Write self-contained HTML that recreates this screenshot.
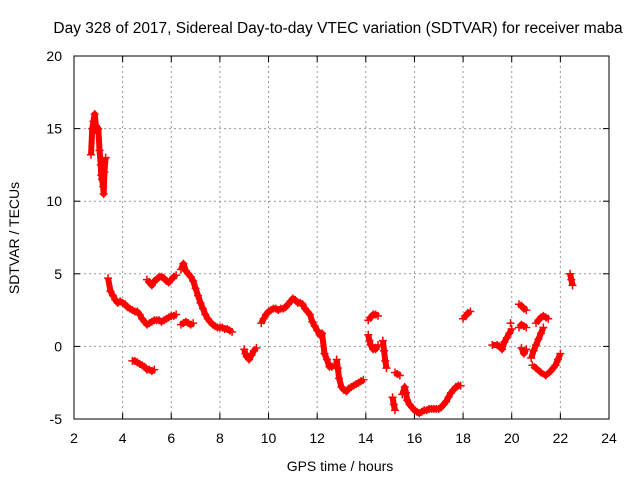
<!DOCTYPE html>
<html><head><meta charset="utf-8"><style>
body{margin:0;background:#fff}
svg{display:block;font-family:"Liberation Sans",sans-serif}
</style></head><body>
<svg id="c" width="640" height="480">
<text x="338" y="33" text-anchor="middle" font-size="15.5" fill="#000">Day 328 of 2017, Sidereal Day-to-day VTEC variation (SDTVAR) for receiver maba</text>
<text x="340" y="471" text-anchor="middle" font-size="14">GPS time / hours</text>
<text transform="translate(19,238) rotate(-90)" text-anchor="middle" font-size="14">SDTVAR / TECUs</text>
<g id="grid"></g><g id="marks"></g>
<rect x="74" y="56" width="535" height="363" fill="none" stroke="#000" stroke-width="1"/>
</svg>
<script>
const xTicks=[2,4,6,8,10,12,14,16,18,20,22,24];
const yTicks=[-5,0,5,10,15,20];
const segHours=[
[2.7,2.75,2.8,2.85,2.9,2.95,3.0,3.05,3.1,3.12,3.15,3.2,3.22,3.25,3.3],
[3.4,3.5,3.6,3.7,3.8,3.9,4.0,4.1,4.2,4.3,4.4,4.5,4.6,4.7,4.8,4.9,5.0,5.1,5.2,5.3,5.4,5.5,5.6,5.7,5.8,5.9,6.0,6.1,6.2],
[5.0,5.1,5.2,5.3,5.4,5.5,5.6,5.7,5.8,5.9,6.0,6.1,6.2],
[4.4,4.5,4.6,4.7,4.8,4.9,5.0,5.1,5.2,5.3],
[6.4,6.5,6.6,6.7,6.8,6.9],
[6.4,6.5,6.6,6.7,6.8,6.9,7.0,7.1,7.2,7.3,7.4,7.5,7.6,7.7,7.8,7.9,8.0,8.1,8.2,8.3,8.4,8.5],
[9.0,9.05,9.1,9.2,9.3,9.4,9.5],
[9.7,9.8,9.9,10.0,10.1,10.2,10.3,10.4,10.5,10.6,10.7,10.8,10.9,11.0,11.1,11.2,11.3,11.4,11.5,11.6,11.7,11.8,11.9,12.0,12.1,12.2,12.3,12.4,12.5,12.6,12.7],
[12.8,12.85,12.9,13.0,13.1,13.2,13.3,13.4,13.5,13.6,13.7,13.8,13.9],
[14.1,14.2,14.3,14.4,14.5],
[14.1,14.15,14.2,14.3,14.4,14.5],
[14.7,14.75,14.8,14.85],
[15.2,15.3,15.4],
[15.1,15.15,15.2],
[15.5,15.6,15.65,15.7,15.8,15.9,16.0,16.1,16.2,16.3,16.4,16.5,16.6,16.7,16.8,16.9,17.0,17.1,17.2,17.3,17.4,17.5,17.6,17.7,17.8,17.9],
[18.0,18.1,18.2,18.3],
[19.2,19.4,19.5,19.6,19.7,19.8,19.9,20.0],
[19.95],
[20.3,20.4,20.5,20.6],
[20.3,20.4,20.5,20.6],
[20.4,20.5,20.6],
[20.8,20.9,21.0,21.1,21.2,21.3],
[20.85,21.0,21.2,21.4,21.6,21.8,21.9,22.0],
[21.0,21.1,21.2,21.3,21.4,21.5],
[22.4,22.45,22.5]
];
const segValues=[
[13.2,15,15.5,16,15.2,14.8,15,13.5,12.5,11.8,11.5,11,10.5,12,13],
[4.7,3.8,3.5,3.2,3.0,3.1,3.0,2.9,2.7,2.6,2.5,2.4,2.4,2.2,1.9,1.7,1.5,1.6,1.7,1.8,1.8,1.8,1.7,1.8,1.9,2.0,2.1,2.1,2.2],
[4.6,4.4,4.2,4.5,4.6,4.8,4.8,4.7,4.5,4.4,4.6,4.8,4.9],
[-1.0,-1.0,-1.1,-1.2,-1.3,-1.4,-1.6,-1.6,-1.7,-1.6],
[1.5,1.6,1.7,1.6,1.5,1.6],
[5.3,5.7,5.2,5.0,4.8,4.5,4.0,3.5,3.0,2.6,2.2,1.9,1.7,1.5,1.4,1.3,1.3,1.3,1.2,1.2,1.1,1.0],
[-0.2,-0.5,-0.7,-0.9,-0.6,-0.3,-0.1],
[1.6,1.9,2.2,2.4,2.5,2.6,2.6,2.5,2.6,2.6,2.7,2.9,3.1,3.3,3.2,3.0,3.0,2.9,2.6,2.4,2.2,1.7,1.4,1.1,0.8,0.9,-0.5,-0.9,-1.4,-1.4,-1.3],
[-0.9,-1.5,-2.2,-2.8,-3.0,-3.1,-2.9,-2.8,-2.7,-2.6,-2.5,-2.4,-2.3],
[1.8,2.0,2.2,2.2,2.1],
[0.8,0.4,0.1,-0.2,-0.2,0.1],
[0.4,-0.3,-1.0,-1.5],
[-1.8,-1.9,-2.0],
[-3.5,-4.0,-4.4],
[-3.3,-2.8,-3.2,-3.7,-4.0,-4.2,-4.4,-4.5,-4.6,-4.5,-4.4,-4.4,-4.3,-4.3,-4.3,-4.3,-4.3,-4.2,-4.0,-3.8,-3.5,-3.2,-3.0,-2.8,-2.7,-2.7],
[1.9,2.1,2.3,2.4],
[0.1,0.1,0,-0.2,0.3,0.6,0.9,1.2],
[1.6],
[2.9,2.8,2.6,2.5],
[1.3,1.5,1.4,1.3],
[-0.1,-0.5,-0.2],
[-0.8,-0.3,0.1,0.5,0.9,1.3],
[-1.3,-1.5,-1.8,-2.0,-1.7,-1.3,-0.9,-0.5],
[1.6,1.8,2.0,2.1,2.0,1.9],
[5.0,4.6,4.2]
];
const NS='http://www.w3.org/2000/svg';
const X=h=>74+(h-2)*535/22;
const Y=v=>419-(v+5)*363/25;
const grid=document.getElementById('grid'),marks=document.getElementById('marks'),svg=document.getElementById('c');
function mk(tag,attrs,parent){const e=document.createElementNS(NS,tag);for(const k in attrs)e.setAttribute(k,attrs[k]);parent.appendChild(e);return e;}
xTicks.forEach(t=>{
 const x=X(t);
 if(t>2&&t<24){const g=mk('line',{x1:x,x2:x,y1:56,y2:419,stroke:'#999','stroke-dasharray':'2,3'},grid);
 
 }
 mk('line',{x1:x,x2:x,y1:419,y2:413,stroke:'#000'},grid);
 mk('line',{x1:x,x2:x,y1:56,y2:62,stroke:'#000'},grid);
 const l=mk('text',{x:x,y:443,'text-anchor':'middle','font-size':14},svg);l.textContent=t;
 
 
});
yTicks.forEach(t=>{
 const y=Y(t);
 if(t>-5&&t<20){const g=mk('line',{x1:74,x2:609,y1:y,y2:y,stroke:'#999','stroke-dasharray':'2,3'},grid);
 
 }
 mk('line',{x1:74,x2:80,y1:y,y2:y,stroke:'#000'},grid);
 mk('line',{x1:609,x2:603,y1:y,y2:y,stroke:'#000'},grid);
 const l=mk('text',{x:62,y:y+5,'text-anchor':'end','font-size':14},svg);l.textContent=t;
 
 
});
segHours.forEach((hs,i)=>{
 const vs=segValues[i];
 if(hs.length>1){
  const pl=mk('polyline',{points:hs.map((h,j)=>X(h)+','+Y(vs[j])).join(' '),fill:'none',stroke:'#f00','stroke-width':6,'stroke-linejoin':'round'},marks);
  
  
 }
 hs.forEach((h,j)=>{
  const x=X(h),y=Y(vs[j]);
  const p=mk('path',{d:`M${x-4},${y}H${x+4}M${x},${y-4}V${y+4}`,stroke:'#f00','stroke-width':1.5},marks);
  
  
 });
});
</script>
</body></html>
